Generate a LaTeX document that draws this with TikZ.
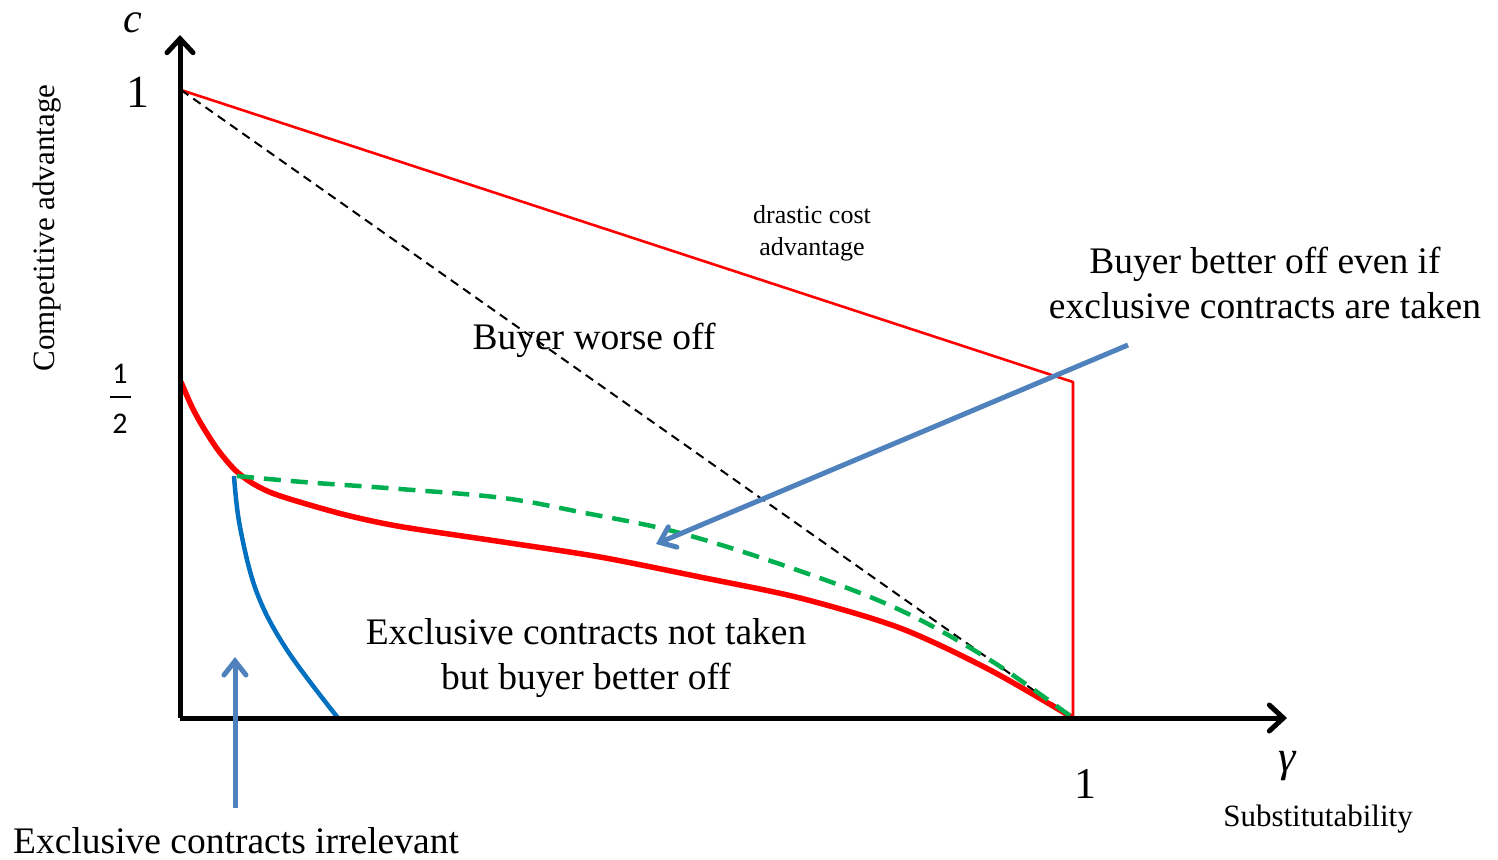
\documentclass[tikz,border=0pt]{standalone}
\usepackage{fontspec}
\setmainfont{Liberation Serif}
\newfontfamily\digitfont{Carlito}
\usetikzlibrary{arrows.meta}

\definecolor{curveblue}{HTML}{0070C0}
\definecolor{arrowblue}{HTML}{4F81BD}
\definecolor{dashgreen}{HTML}{00B050}

\newcommand{\fs}[1]{\fontsize{#1}{#1}\selectfont}

\begin{document}
\begin{tikzpicture}[x=1pt, y=-1pt,
	axis/.style={line width=5pt, -{Straight Barb[length=14pt,width=26pt,line cap=round]}},
	pointer/.style={line width=5pt, color=arrowblue, -{Straight Barb[length=14pt,width=22pt,line cap=round]}},
	label/.style={inner sep=0pt, align=center},
	]
	\useasboundingbox (0,0) rectangle (1498,859);

	% axes
	\coordinate (O) at (180,718);
	\coordinate (ytop) at (180,35);
	\coordinate (xend) at (1287,718);
	\coordinate (c1) at (181,90);
	\coordinate (g1) at (1073,718);
	\coordinate (g1top) at (1073,382);
	\coordinate (chalf) at (181,382);

	% regions
	\draw [red, line width=2.6pt, line join=round] (c1) -- (g1top) -- (g1);
	\draw [black, line width=2pt, dash pattern=on 9pt off 6pt] (c1) -- (g1);
	\draw [red, line width=5.5pt] plot [smooth, tension=0.5] coordinates
		{(chalf) (192,407) (203,427) (218,450) (235,470) (252,483) (272,493) (303,503)
		 (350,516) (403,527) (503,542) (600,557) (700,577) (800,598) (900,628) (990,670) (g1)};
	\draw [dashgreen, line width=4.5pt, dash pattern=on 17pt off 10pt] plot [smooth, tension=0.6] coordinates
		{(237,476) (303,482) (400,489) (503,498) (580,512) (680,533)
		 (800,571) (900,610) (990,660) (g1)};
	\draw [curveblue, line width=4.5pt] plot [smooth, tension=0.6] coordinates
		{(234,476) (240,527) (257,593) (287,650) (338,718)};

	\draw [axis] (O) -- (ytop);
	\draw [axis] (O) -- (xend);

	% axis labels
	\node [label, anchor=base, font=\fs{42}\itshape] (c) at (133,33) {c};
	\node [label, font=\fs{46}] (one) at (138,92) {1};
	\node [label, font=\digitfont\fs{30}] (halfnum) at (120,374) {1};
	\node [label, font=\digitfont\fs{30}] (halfden) at (120,424) {2};
	\draw [line width=2.5pt] (110,397) -- (131,397);
	\node [label, rotate=90, font=\fs{31}] (cname) at (47,228) {Competitive advantage};
	\node [label, font=\fs{44}] (gone) at (1085,784) {1};
	\node [label, font=\fs{44}\itshape] (gamma) at (1287,766) {γ};
	\node [label, font=\fs{31}] (gname) at (1318,819) {Substitutability};

	% region texts
	\node [label, font=\fs{26}] (drastic) at (812,233) {drastic cost\\[6pt]advantage};
	\node [label, font=\fs{37.5}] (worse) at (594,340) {Buyer worse off};
	\node [label, font=\fs{37.5}] (better) at (1265,283) {Buyer better off even if\\[8pt]exclusive contracts are taken};
	\node [label, font=\fs{37.5}] (nottaken) at (586,658) {Exclusive contracts not taken\\[8pt]but buyer better off};
	\node [label, anchor=west, font=\fs{37.5}] (irrelevant) at (13,841) {Exclusive contracts irrelevant};

	% pointers
	\coordinate (p1from) at (235,808);
	\coordinate (p1to) at (235,657);
	\coordinate (p2from) at (1128,345);
	\coordinate (p2to) at (656,544);
	\draw [pointer] (p1from) -- (p1to);
	\draw [pointer] (p2from) -- (p2to);
\end{tikzpicture}
\end{document}
